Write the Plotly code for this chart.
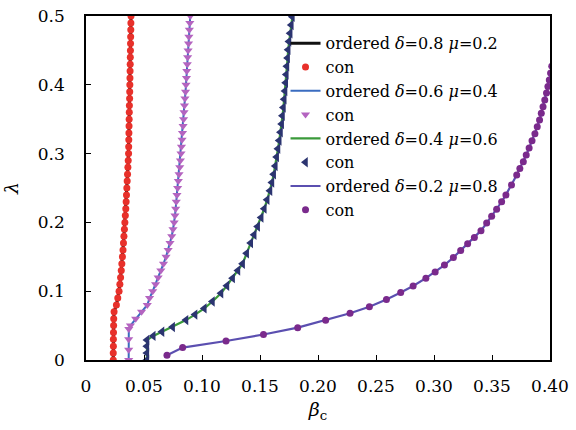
import plotly.graph_objects as go

# ---- data ----
lam_08 = [0.00, 0.01, 0.02, 0.03, 0.04, 0.05, 0.06, 0.07, 0.08, 0.09,
          0.10, 0.11, 0.12, 0.13, 0.14, 0.15, 0.16, 0.17, 0.18, 0.19,
          0.20, 0.21, 0.22, 0.23, 0.24, 0.25, 0.26, 0.27, 0.28, 0.29,
          0.30, 0.31, 0.32, 0.33, 0.34, 0.35, 0.36, 0.37, 0.38, 0.39,
          0.40, 0.41, 0.42, 0.43, 0.44, 0.45, 0.46, 0.47, 0.48, 0.49, 0.50]
beta_08 = [0.0235, 0.0235, 0.0236, 0.0236, 0.0237, 0.0238, 0.0239, 0.0242, 0.0262, 0.0274,
           0.0285, 0.0292, 0.0298, 0.0304, 0.0309, 0.0314, 0.0319, 0.0323, 0.0327, 0.0331,
           0.0335, 0.0339, 0.0343, 0.0346, 0.0349, 0.0352, 0.0355, 0.0358, 0.0361, 0.0364,
           0.0367, 0.0368, 0.0369, 0.0370, 0.0371, 0.0372, 0.0373, 0.0374, 0.0376, 0.0377,
           0.0378, 0.0379, 0.0380, 0.0381, 0.0382, 0.0383, 0.0384, 0.0385, 0.0386, 0.0387, 0.0388]

lam_06 = [0.000, 0.015, 0.030, 0.045, 0.050, 0.060, 0.070, 0.080, 0.090,
          0.10, 0.11, 0.12, 0.13, 0.14, 0.15, 0.16, 0.17, 0.18, 0.19,
          0.20, 0.21, 0.22, 0.23, 0.24, 0.25, 0.26, 0.27, 0.28, 0.29,
          0.30, 0.31, 0.32, 0.33, 0.34, 0.35, 0.36, 0.37, 0.38, 0.39,
          0.40, 0.41, 0.42, 0.43, 0.44, 0.45, 0.46, 0.47, 0.48, 0.49, 0.50]
beta_06 = [0.0368, 0.0368, 0.0368, 0.0369, 0.0383, 0.0428, 0.0479, 0.0528, 0.0548,
           0.0575, 0.0600, 0.0622, 0.0645, 0.0668, 0.0690, 0.0708, 0.0724, 0.0739, 0.0750,
           0.0760, 0.0767, 0.0773, 0.0778, 0.0784, 0.0790, 0.0796, 0.0802, 0.0808, 0.0814,
           0.0819, 0.0823, 0.0828, 0.0832, 0.0837, 0.0841, 0.0845, 0.0849, 0.0853, 0.0858,
           0.0862, 0.0866, 0.0869, 0.0873, 0.0876, 0.0880, 0.0884, 0.0887, 0.0891, 0.0895, 0.0899]

lam_04 = [0.000, 0.010, 0.020, 0.029, 0.035, 0.041, 0.048, 0.058, 0.066, 0.075,
          0.085, 0.097, 0.108, 0.119, 0.130, 0.140, 0.155, 0.170, 0.182, 0.194,
          0.207, 0.220, 0.233, 0.246, 0.258, 0.270, 0.282, 0.295, 0.307, 0.319,
          0.331, 0.343, 0.355, 0.367, 0.379, 0.391, 0.403, 0.415, 0.427, 0.439,
          0.451, 0.463, 0.475, 0.487, 0.499]
beta_04 = [0.0525, 0.0525, 0.0525, 0.0526, 0.0580, 0.0655, 0.0747, 0.0862, 0.0940, 0.1020,
           0.1090, 0.1164, 0.1215, 0.1264, 0.1310, 0.1350, 0.1385, 0.1420, 0.1450, 0.1480,
           0.1510, 0.1537, 0.1562, 0.1586, 0.1603, 0.1618, 0.1632, 0.1644, 0.1655, 0.1666,
           0.1677, 0.1687, 0.1694, 0.1702, 0.1709, 0.1716, 0.1722, 0.1727, 0.1732, 0.1738,
           0.1743, 0.1750, 0.1760, 0.1770, 0.1779]

lam_02 = [0.007, 0.018, 0.0276, 0.037, 0.047, 0.0577, 0.068, 0.0775, 0.088, 0.098,
          0.1076, 0.119, 0.128, 0.138, 0.149, 0.159, 0.169, 0.178, 0.188, 0.199,
          0.209, 0.219, 0.230, 0.240, 0.2545, 0.269, 0.2785, 0.288, 0.298, 0.308,
          0.3185, 0.329, 0.339, 0.349, 0.3585, 0.368, 0.378, 0.388, 0.3975, 0.407,
          0.417, 0.427]
beta_02 = [0.0698, 0.0833, 0.1207, 0.1530, 0.1825, 0.2066, 0.2276, 0.2443, 0.2590, 0.2713,
           0.2820, 0.2930, 0.3010, 0.3090, 0.3167, 0.3230, 0.3290, 0.3348, 0.3405, 0.3454,
           0.3497, 0.3540, 0.3583, 0.3620, 0.3668, 0.3713, 0.3740, 0.3770, 0.3795, 0.3820,
           0.3845, 0.3870, 0.3890, 0.3910, 0.3925, 0.3940, 0.3955, 0.3970, 0.3982, 0.3994,
           0.4005, 0.4015]

x_ticks = [0, 0.05, 0.10, 0.15, 0.20, 0.25, 0.30, 0.35, 0.40]
x_ticktext = ["0", "0.05", "0.10", "0.15", "0.20", "0.25", "0.30", "0.35", "0.40"]
y_ticks = [0, 0.1, 0.2, 0.3, 0.4, 0.5]
y_ticktext = ["0", "0.1", "0.2", "0.3", "0.4", "0.5"]

series = [
    ("ordered <i>δ</i>=0.8 <i>μ</i>=0.2", beta_08, lam_08, "#111111", 3.0, "#e8302a", "circle", 7),
    ("ordered <i>δ</i>=0.6 <i>μ</i>=0.4", beta_06, lam_06, "#3a6cc0", 2.0, "#b464c0", "triangle-down", 8),
    ("ordered <i>δ</i>=0.4 <i>μ</i>=0.6", beta_04, lam_04, "#3a9a3a", 2.2, "#2b3470", "triangle-left", 9),
    ("ordered <i>δ</i>=0.2 <i>μ</i>=0.8", beta_02, lam_02, "#5b4fb0", 2.2, "#7a2a8c", "circle", 7),
]

FONT = "DejaVu Serif"

fig = go.Figure()
for name, bx, ly, lcol, lw, mcol, msym, msz in series:
    fig.add_trace(go.Scatter(x=bx, y=ly, mode="lines", name=name,
                             line=dict(color=lcol, width=lw)))
    fig.add_trace(go.Scatter(x=bx, y=ly, mode="markers", name="con",
                             marker=dict(color=mcol, symbol=msym, size=msz,
                                         line=dict(width=0))))

fig.update_layout(
    width=576, height=430,
    margin=dict(l=86, r=26, t=16, b=70),
    paper_bgcolor="white", plot_bgcolor="white",
    font=dict(family=FONT, size=17, color="black"),
    showlegend=True,
    legend=dict(x=0.43, y=0.97, xanchor="left", yanchor="top",
                bgcolor="rgba(0,0,0,0)", borderwidth=0,
                font=dict(family=FONT, size=16, color="black"),
                itemwidth=30, tracegroupgap=0),
    xaxis=dict(range=[0, 0.40], tickvals=x_ticks, ticktext=x_ticktext,
               ticks="inside", ticklen=5, tickwidth=1.2, tickcolor="black",
               showline=True, linecolor="black", linewidth=1.5, mirror=True,
               showgrid=False, zeroline=False, ticklabelstandoff=10,
               automargin=False,
               tickfont=dict(family=FONT, size=17),
               title=dict(text="<i>β</i><sub>c</sub>", standoff=8,
                          font=dict(family=FONT, size=19))),
    yaxis=dict(range=[0, 0.5], tickvals=y_ticks, ticktext=y_ticktext,
               ticks="inside", ticklen=5, tickwidth=1.2, tickcolor="black",
               showline=True, linecolor="black", linewidth=1.5, mirror=True,
               showgrid=False, zeroline=False, ticklabelstandoff=16,
               automargin=False,
               tickfont=dict(family=FONT, size=17),
               title=dict(text="<i>λ</i>", standoff=14,
                          font=dict(family=FONT, size=19))),
)

fig.write_html("out.html", config={"displayModeBar": False},
               post_script="document.body.style.margin='0';")
